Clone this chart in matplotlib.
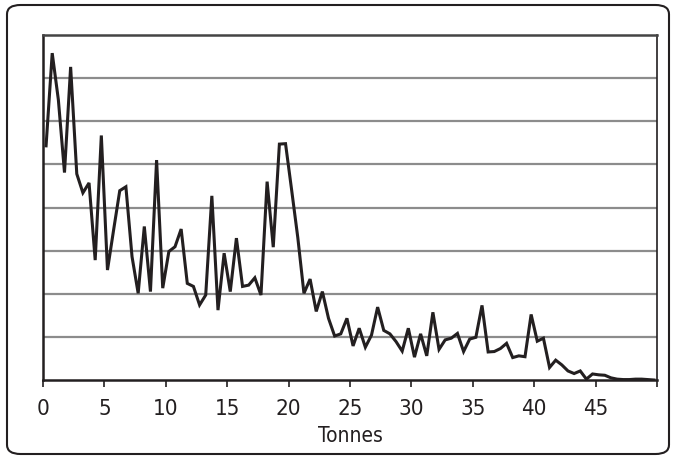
import numpy as np
import matplotlib as mpl
mpl.use("Agg")
import matplotlib.pyplot as plt
from matplotlib.patches import FancyBboxPatch

INK, GRID = "#231f20", "#8c8c8c"

mpl.rcParams.update({
    "font.family": ["DejaVu Sans"],
    "font.stretch": "condensed",
    "font.size": 13,
})

# tonnage bins (0.5 t wide)
tonnes = np.arange(100) * 0.5 + 0.25
values = [
    5.43, 7.58, 6.50, 4.81, 7.26, 4.78, 4.34, 4.57, 2.78, 5.67,
    2.55, 3.48, 4.39, 4.48, 2.86, 2.01, 3.56, 2.05, 5.10, 2.13,
    2.98, 3.09, 3.50, 2.24, 2.17, 1.74, 1.97, 4.27, 1.62, 2.94,
    2.05, 3.29, 2.17, 2.20, 2.37, 1.97, 4.60, 3.08, 5.47, 5.48,
    4.40, 3.30, 2.01, 2.34, 1.59, 2.05, 1.43, 1.02, 1.07, 1.43,
    0.79, 1.20, 0.76, 1.04, 1.69, 1.15, 1.07, 0.89, 0.67, 1.20,
    0.53, 1.07, 0.56, 1.57, 0.71, 0.93, 0.97, 1.08, 0.66, 0.95,
    0.99, 1.73, 0.65, 0.66, 0.73, 0.85, 0.52, 0.56, 0.54, 1.52,
    0.90, 0.97, 0.29, 0.46, 0.35, 0.21, 0.15, 0.21, 0.02, 0.14,
    0.12, 0.11, 0.05, 0.02, 0.01, 0.01, 0.02, 0.02, 0.01, 0.00,
]
xticks = np.arange(0, 51, 5)
xticklabels = [str(t) for t in xticks[:-1]] + [""]

fig = plt.figure(figsize=(6.75, 4.59), dpi=100)
ax = fig.add_axes([43 / 675, 1 - 380 / 459, 614 / 675, 345 / 459])

ax.plot(tonnes, values, color=INK, lw=2.2, solid_joinstyle="miter")

ax.set_xlim(0, 50)
ax.set_ylim(0, 8)
ax.set_yticks(np.arange(1, 8))
ax.yaxis.grid(True, color=GRID, lw=1.6)
ax.tick_params(axis="y", left=False, labelleft=False)
ax.set_xticks(xticks)
ax.set_xticklabels(xticklabels, fontstretch="condensed")
ax.tick_params(axis="x", direction="out", length=5, width=1.2, color=INK,
               labelsize=16, pad=9, labelcolor=INK)
ax.set_xlabel("Tonnes", fontsize=15, color=INK, labelpad=5,
              fontstretch="condensed")

for side in ["left", "bottom"]:
    ax.spines[side].set_color(INK)
    ax.spines[side].set_linewidth(1.8)
ax.spines["right"].set_color(INK)
ax.spines["right"].set_linewidth(1.2)
ax.spines["top"].set_color("#444444")
ax.spines["top"].set_linewidth(1.8)

# rounded frame around the whole figure
frame = FancyBboxPatch((7 / 675, 5 / 459), 662 / 675, 449 / 459,
                       boxstyle="round,pad=0,rounding_size=0.02",
                       transform=fig.transFigure, fill=False,
                       edgecolor=INK, lw=1.5)
fig.patches.append(frame)

fig.savefig("out.png", dpi=100)
